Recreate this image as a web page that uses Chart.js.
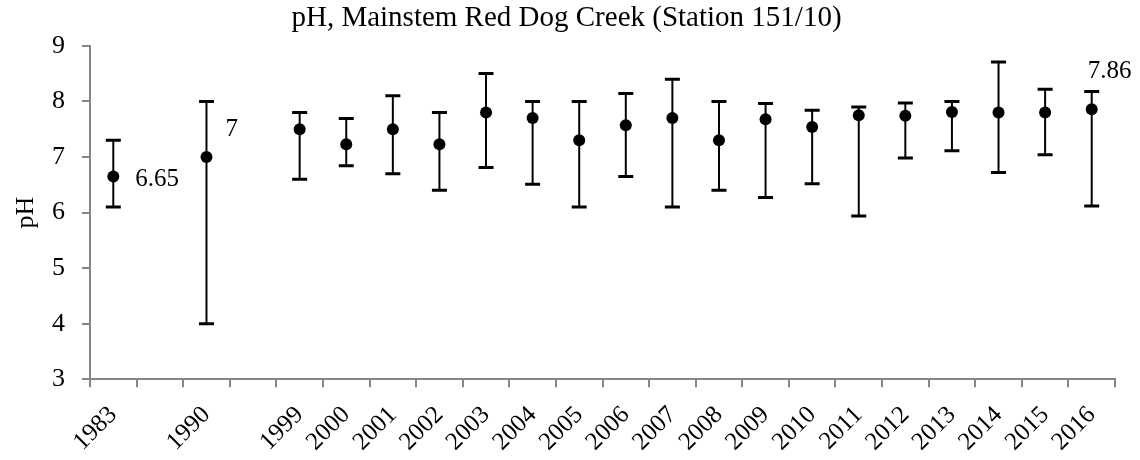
<!DOCTYPE html>
<html>
<head>
<meta charset="utf-8">
<script src="https://cdn.jsdelivr.net/npm/chart.js@4.4.1/dist/chart.umd.min.js"></script>
<style>
  html, body { margin: 0; padding: 0; background: #fff; }
  #wrap { width: 1140px; height: 460px; }
</style>
</head>
<body>
<div id="wrap"><canvas id="phChart"></canvas></div>
<script>
// Catégories (les cases vides laissent un espace entre 1983, 1990 et 1999)
const years = ["1983", "", "1990", "", "1999", "2000", "2001", "2002", "2003", "2004", "2005",
  "2006", "2007", "2008", "2009", "2010", "2011", "2012", "2013", "2014", "2015", "2016"];

// pH moyen, maximum et minimum
const phMean = [6.65, null, 7, null, 7.5, 7.23, 7.5, 7.23, 7.8, 7.7, 7.3,
  7.57, 7.7, 7.3, 7.68, 7.54, 7.75, 7.74, 7.81, 7.8, 7.8, 7.86];
const phMax = [7.3, null, 8.0, null, 7.8, 7.69, 8.1, 7.8, 8.5, 8.0, 8.0,
  8.14, 8.4, 8.0, 7.96, 7.84, 7.9, 7.97, 8.0, 8.71, 8.22, 8.18];
const phMin = [6.1, null, 4.0, null, 6.6, 6.84, 6.7, 6.4, 6.81, 6.51, 6.1,
  6.65, 6.1, 6.4, 6.27, 6.52, 5.94, 6.98, 7.11, 6.72, 7.04, 6.12];

// Étiquettes de valeurs affichées
const labelled = [0, 2, 21];

const serif = "'Liberation Serif', 'Times New Roman', serif";

// Barres d'erreur (min / max) dessinées sous les points
const errorBars = {
  id: "errorBars",
  beforeDatasetsDraw(chart) {
    const { ctx, scales: { x, y } } = chart;
    ctx.save();
    ctx.strokeStyle = "#000";
    phMean.forEach((v, i) => {
      if (v === null) return;
      const px = x.getPixelForValue(i);
      const top = y.getPixelForValue(phMax[i]);
      const bot = y.getPixelForValue(phMin[i]);
      ctx.lineWidth = 2;
      ctx.beginPath();
      ctx.moveTo(px, top);
      ctx.lineTo(px, bot);
      ctx.stroke();
      ctx.lineWidth = 3;
      ctx.beginPath();
      ctx.moveTo(px - 7.5, top);
      ctx.lineTo(px + 7.5, top);
      ctx.moveTo(px - 7.5, bot);
      ctx.lineTo(px + 7.5, bot);
      ctx.stroke();
    });
    ctx.restore();
  }
};

// Étiquettes des valeurs (placées à la main comme dans Excel)
const labelOffsets = { 0: [22, 3], 2: [19, -28], 21: [18, -38] };
const valueLabels = {
  id: "valueLabels",
  afterDatasetsDraw(chart) {
    const { ctx, scales: { x, y } } = chart;
    ctx.save();
    ctx.font = "25px " + serif;
    ctx.fillStyle = "#000";
    ctx.textBaseline = "middle";
    labelled.forEach(i => {
      const [dx, dy] = labelOffsets[i];
      const px = x.getPixelForValue(i);
      const py = y.getPixelForValue(phMean[i]);
      ctx.textAlign = i === 21 ? "center" : "left";
      ctx.fillText(String(phMean[i]), px + dx, py + dy);
    });
    ctx.restore();
  }
};

const axisGray = "#868686";

new Chart(document.getElementById("phChart"), {
  type: "line",
  data: {
    labels: years,
    datasets: [{
      label: "pH",
      data: phMean,
      showLine: false,
      pointRadius: 6,
      pointHoverRadius: 6,
      pointBackgroundColor: "#000",
      pointBorderColor: "#000",
      pointBorderWidth: 0
    }]
  },
  options: {
    responsive: true,
    maintainAspectRatio: false,
    animation: false,
    layout: { padding: { left: 18, right: 25, top: 0, bottom: 0 } },
    plugins: {
      legend: { display: false },
      tooltip: { enabled: false },
      title: {
        display: true,
        text: "pH, Mainstem Red Dog Creek (Station 151/10)",
        color: "#000",
        font: { family: serif, size: 29, weight: "normal" },
        padding: { top: 1, bottom: 10 }
      }
    },
    scales: {
      x: {
        offset: true,
        grid: {
          offset: true,
          drawOnChartArea: false,
          drawTicks: true,
          tickLength: 8,
          color: axisGray,
          lineWidth: 2
        },
        border: { color: axisGray, width: 2 },
        ticks: {
          autoSkip: false,
          maxRotation: 45,
          minRotation: 45,
          padding: 13,
          color: "#000",
          font: { family: serif, size: 25 }
        },
        afterFit(scale) { scale.height = 80.7; }
      },
      y: {
        min: 3,
        max: 9,
        grid: {
          drawOnChartArea: false,
          drawTicks: true,
          tickLength: 8,
          color: axisGray,
          lineWidth: 2
        },
        border: { color: axisGray, width: 2 },
        ticks: {
          stepSize: 1,
          padding: 17,
          color: "#000",
          font: { family: serif, size: 26 }
        },
        title: {
          display: true,
          text: "pH",
          color: "#000",
          font: { family: serif, size: 26 },
          padding: { top: -7, bottom: 0 }
        },
        afterFit(scale) { scale.width = 72; }
      }
    }
  },
  plugins: [errorBars, valueLabels]
});
</script>
</body>
</html>
